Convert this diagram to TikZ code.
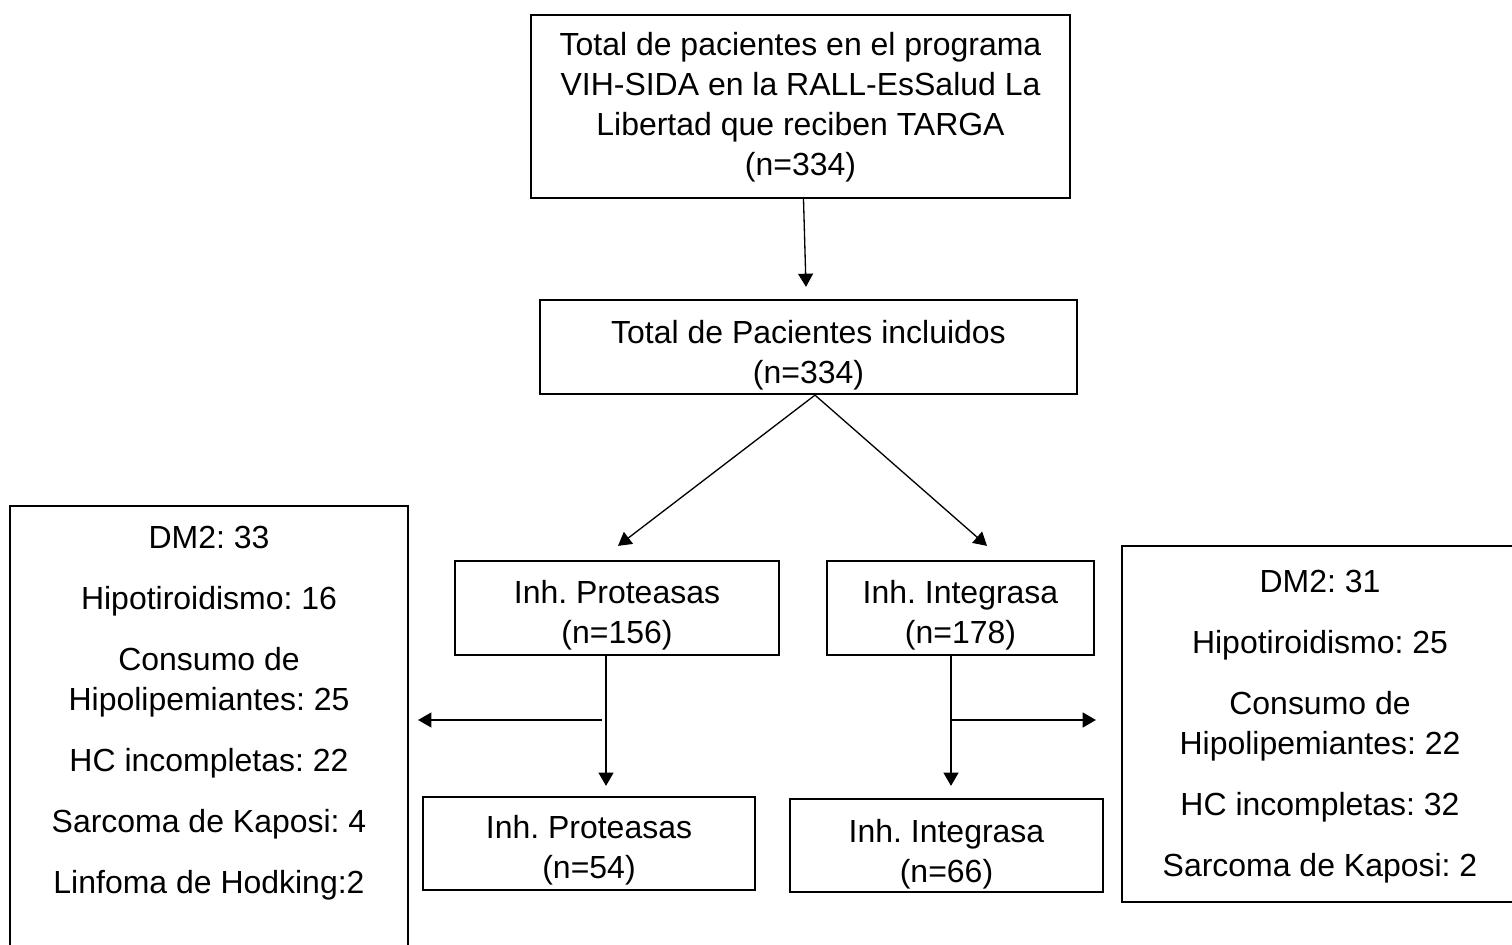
\documentclass[tikz,border=0pt]{standalone}
\usepackage{fontspec}
\setmainfont{Liberation Sans}
\usetikzlibrary{arrows.meta,calc}
\begin{document}
\begin{tikzpicture}[x=0.02cm,y=-0.02cm,
  box/.style={draw, line width=1.3pt, inner sep=0pt},
  txt/.style={inner sep=0pt, anchor=north, align=center, font=\fontsize{18.2pt}{22.8pt}\selectfont\frenchspacing},
  arr/.style={draw, line width=0.75pt, -{Triangle[length=7.5pt,width=8.5pt]}}]
\path[use as bounding box, clip] (0,0) rectangle (1512,945);
\fill[white] (0,0) rectangle (1512,945);
% boxes
\node[box, minimum width=10.78cm, minimum height=3.66cm] (top) at (800.5,106.5) {};
\node[box, minimum width=10.74cm, minimum height=1.88cm] (mid) at (808.5,347) {};
\node[box, minimum width=6.48cm, minimum height=1.88cm] (prot) at (617,608) {};
\node[box, minimum width=5.34cm, minimum height=1.88cm] (integ) at (960.5,608) {};
\node[box, minimum width=6.64cm, minimum height=1.86cm] (prot2) at (589,843.5) {};
\node[box, minimum width=6.26cm, minimum height=1.86cm] (integ2) at (946.5,845.5) {};
\node[box, minimum width=7.96cm, minimum height=9.68cm] (lbox) at (209,748) {};
\node[box, minimum width=7.92cm, minimum height=7.12cm] (rbox) at (1320,724) {};
% texts
\node[txt] (topt) at (800.5,28.5) {\rule{0pt}{15pt}Total de pacientes en el programa\\VIH-SIDA en la RALL-EsSalud La\\Libertad que reciben TARGA\\(n=334)};
\node[txt] (midt) at (808.5,316.5) {\rule{0pt}{15pt}Total de Pacientes incluidos\\(n=334)};
\node[txt] (prott) at (617,576.5) {\rule{0pt}{15pt}Inh. Proteasas\\(n=156)};
\node[txt] (integt) at (960.5,576.5) {\rule{0pt}{15pt}Inh. Integrasa\\(n=178)};
\node[txt] (prot2t) at (589,811.5) {\rule{0pt}{15pt}Inh. Proteasas\\(n=54)};
\node[txt] (integ2t) at (946.5,815.5) {\rule{0pt}{15pt}Inh. Integrasa\\(n=66)};
\node[txt] (lboxt) at (209,521.5) {\rule{0pt}{15pt}DM2: 33\\[11.9pt]Hipotiroidismo: 16\\[11.9pt]Consumo de\\Hipolipemiantes: 25\\[11.9pt]HC incompletas: 22\\[11.9pt]Sarcoma de Kaposi: 4\\[11.9pt]Linfoma de Hodking:2};
\node[txt] (rboxt) at (1320,565.5) {\rule{0pt}{15pt}DM2: 31\\[11.9pt]Hipotiroidismo: 25\\[11.9pt]Consumo de\\Hipolipemiantes: 22\\[11.9pt]HC incompletas: 32\\[11.9pt]Sarcoma de Kaposi: 2};
% connectors
\coordinate (pj) at (606,720);
\coordinate (ij) at (951,720);
\draw[arr] ($(top.south)+(3,0)$) -- ($(mid.north)+(-2.5,-12)$);
\draw[arr] ($(mid.south)+(6.5,0)$) -- ($(prot.north)+(1,-14)$);
\draw[arr] ($(mid.south)+(6.5,0)$) -- ($(integ.north)+(26.5,-14)$);
\draw[arr] (prot.south -| pj) -- ($(prot2.north -| pj)+(0,-10)$);
\draw[arr] ($(pj)+(-4,0)$) -- ($(pj -| lbox.east)+(9,0)$);
\draw[arr] (integ.south -| ij) -- ($(integ2.north -| ij)+(0,-12)$);
\draw[arr] (ij) -- ($(ij -| rbox.west)+(-25,0)$);
\end{tikzpicture}
\end{document}
